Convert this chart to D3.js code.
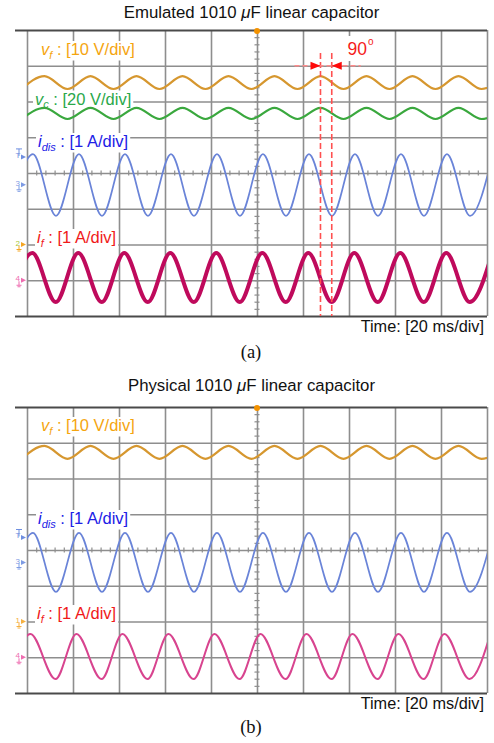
<!DOCTYPE html>
<html lang="en">
<head>
<meta charset="UTF-8">
<title>Emulated vs physical 1010 uF capacitor</title>
<style>
  body { margin: 0; background: #fff; }
  svg { display: block; font-family: "Liberation Sans", Arial, sans-serif; }
</style>
</head>
<body>
<div id="chart"></div>
<script src="https://cdn.jsdelivr.net/npm/d3@7/dist/d3.min.js"></script>
<script>
// scope grid: 20 ms/div, trigger at t = 0, 8 vertical divisions
const timeTicks = [-100, -80, -60, -40, -20, 0, 20, 40, 60, 80, 100];
const divTicks = [-4, -3, -2, -1, 0, 1, 2, 3, 4];

// extrema of each trace (time in ms, level in divisions)
const vfPeakMs   = [-92.4, -72.4, -52.4, -32.4, -12.4, 7.6, 27.6, 47.6, 67.6, 87.6, 107.6];
const vfTroughMs = [-102.4, -82.4, -62.4, -42.4, -22.4, -2.4, 17.6, 37.6, 57.6, 77.6, 97.6];
const idisPeakMs   = [-97.4, -77.4, -57.4, -37.4, -17.4, 2.6, 22.6, 42.6, 62.6, 82.6, 102.6];
const idisTroughMs = [-107.4, -87.4, -67.4, -47.4, -27.4, -7.4, 12.6, 32.6, 52.6, 72.6, 92.6];
const ifPeakMsA   = [-97.7, -77.7, -57.7, -37.7, -17.7, 2.3, 22.3, 42.3, 62.3, 82.3, 102.3];
const ifTroughMsA = [-107.5, -87.5, -67.5, -47.5, -27.5, -7.5, 12.5, 32.5, 52.5, 72.5, 92.5];
const ifPeakMsB   = [-98.5, -78.5, -58.5, -38.5, -18.5, 1.5, 21.5, 41.5, 61.5, 81.5, 101.5];
const ifTroughMsB = [-107.6, -87.6, -67.6, -47.6, -27.6, -7.6, 12.4, 32.4, 52.4, 72.4, 92.4];

// [trough, peak] levels in divisions
const vfLevelA = [2.35, 2.71];
const vcLevelA = [1.51, 1.82];
const idisLevelA = [-1.20, 0.53];
const ifLevelA = [-3.61, -2.24];
const vfLevelB = [2.55, 2.91];
const idisLevelB = [-1.17, 0.48];
const ifLevelB = [-3.61, -2.35];

// 90 degree marker: v_f peak vs i_dis trough
const phaseMarkMs = [27.6, 32.5];

const W = 494, H = 743;
const left = 27, right = 487;

const svg = d3.select("#chart").append("svg")
    .attr("width", W)
    .attr("height", H);

const x = d3.scaleLinear().domain([-100, 100]).range([left, right]);

function extrema(peaks, troughs, level) {
    const pts = peaks.map(t => ({ t: t, v: level[1] }))
        .concat(troughs.map(t => ({ t: t, v: level[0] })));
    return pts.sort((a, b) => a.t - b.t);
}

function drawPanel(opt) {
    const top = opt.top, bottom = opt.bottom;
    const y = d3.scaleLinear().domain([-4, 4]).range([bottom, top]);
    const g = svg.append("g");

    // title
    const title = g.append("text")
        .attr("x", 251.5)
        .attr("y", opt.titleY)
        .attr("text-anchor", "middle")
        .attr("font-size", 16.8)
        .attr("fill", "#111");
    title.append("tspan").text(opt.title[0] + " ");
    title.append("tspan").attr("font-style", "italic").text("\u03bc");
    title.append("tspan").text(opt.title[1]);

    // grid from axes
    const gx = g.append("g")
        .attr("transform", `translate(0,${bottom})`)
        .call(d3.axisBottom(x).tickValues(timeTicks).tickSize(-(bottom - top)).tickFormat(""));
    gx.select(".domain").remove();
    gx.selectAll(".tick line").attr("stroke", "#8e8e8e").attr("stroke-width", 1.6);

    const gy = g.append("g")
        .attr("transform", `translate(${left},0)`)
        .call(d3.axisLeft(y).tickValues(divTicks).tickSize(-(right - left)).tickFormat(""));
    gy.select(".domain").remove();
    gy.selectAll(".tick line").attr("stroke", "#8e8e8e").attr("stroke-width", 1.6);
    gy.selectAll(".tick line").filter(d => Math.abs(d) === 4)
        .attr("x1", -12)
        .attr("stroke", "#4a4a4a")
        .attr("stroke-width", 1.8);

    // minor ticks on centre lines
    const cx = g.append("g")
        .attr("transform", `translate(0,${y(0) - 2.5})`)
        .call(d3.axisBottom(x).tickValues(d3.range(-96, 100, 4)).tickSize(5).tickFormat(""));
    cx.select(".domain").remove();
    cx.selectAll(".tick line").attr("stroke", "#8e8e8e").attr("stroke-width", 1.2);
    const cy = g.append("g")
        .attr("transform", `translate(${x(0) - 2.5},0)`)
        .call(d3.axisRight(y).tickValues(d3.range(-3.8, 4, 0.2)).tickSize(5).tickFormat(""));
    cy.select(".domain").remove();
    cy.selectAll(".tick line").attr("stroke", "#8e8e8e").attr("stroke-width", 1.2);

    // trigger marker
    g.append("circle").attr("cx", x(0)).attr("cy", top + 1).attr("r", 3).attr("fill", "#f39200");

    // labels with white boxes, under the traces
    opt.labels.forEach(l => {
        const lg = g.append("g");
        const t = lg.append("text")
            .attr("x", l.x).attr("y", l.y)
            .attr("font-size", 16.5)
            .attr("fill", l.color);
        t.append("tspan").attr("font-style", "italic").text(l.sym);
        t.append("tspan").attr("font-style", "italic").attr("font-size", 11).attr("dy", 3.5).text(l.sub);
        t.append("tspan").attr("dy", -3.5).text(" : " + l.scale);
        const bb = t.node().getBBox();
        lg.insert("rect", "text")
            .attr("x", bb.x - 2).attr("y", bb.y + 1)
            .attr("width", bb.width + 4).attr("height", bb.height - 1)
            .attr("fill", "#fff");
    });

    // traces
    const clipId = "clip" + opt.id;
    svg.append("clipPath").attr("id", clipId)
        .append("rect")
        .attr("x", left).attr("y", top)
        .attr("width", right - left).attr("height", bottom - top);

    const line = d3.line()
        .x(d => x(d.t))
        .y(d => y(d.v))
        .curve(d3.curveMonotoneX);

    const traces = g.append("g").attr("clip-path", `url(#${clipId})`);
    opt.traces.forEach(tr => {
        traces.append("path")
            .datum(extrema(tr.peaks, tr.troughs, tr.level))
            .attr("fill", "none")
            .attr("stroke", tr.color)
            .attr("stroke-width", tr.width)
            .attr("stroke-linejoin", "round")
            .attr("d", line);
    });

    // channel markers on the left edge
    opt.markers.forEach(m => {
        const my = y(m.level);
        g.append("text")
            .attr("x", 15.5).attr("y", my + 1)
            .attr("font-size", 8)
            .attr("fill", m.color)
            .text(m.label);
        g.append("path")
            .attr("d", `M21,${my - 2.5}L26,${my}L21,${my + 2.5}Z`)
            .attr("fill", m.arrow || m.color);
        if (m.label !== "T") {
            g.append("path")
                .attr("d", `M19,${my + 1}V${my + 5}M16.5,${my + 5}H21.5M17.5,${my + 6.5}H20.5`)
                .attr("stroke", m.arrow || m.color)
                .attr("stroke-width", 1)
                .attr("fill", "none");
        } else {
            g.append("path")
                .attr("d", `M16,${my - 8}H22M19,${my - 8}V${my - 1}`)
                .attr("stroke", m.color)
                .attr("stroke-width", 1)
                .attr("fill", "none");
        }
    });

    // time/div
    g.append("text")
        .attr("x", 484).attr("y", bottom + 15.5)
        .attr("text-anchor", "end")
        .attr("font-size", 16.3)
        .attr("fill", "#111")
        .text("Time: [20 ms/div]");

    // sub caption
    g.append("text")
        .attr("x", 251).attr("y", opt.capY)
        .attr("text-anchor", "middle")
        .attr("font-family", "'Liberation Serif', 'Times New Roman', serif")
        .attr("font-size", 18.5)
        .attr("fill", "#111")
        .text(opt.caption);

    return { g: g, y: y };
}

const A = drawPanel({
    id: "a", top: 30, bottom: 316, titleY: 18, capY: 358,
    title: ["Emulated 1010", "F linear capacitor"],
    caption: "(a)",
    traces: [
        { peaks: vfPeakMs, troughs: vfTroughMs, level: vfLevelA, color: "#d6972f", width: 2.2 },
        { peaks: vfPeakMs, troughs: vfTroughMs, level: vcLevelA, color: "#3aa83e", width: 2.2 },
        { peaks: idisPeakMs, troughs: idisTroughMs, level: idisLevelA, color: "#6a84d8", width: 1.7 },
        { peaks: ifPeakMsA, troughs: ifTroughMsA, level: ifLevelA, color: "#bf0a5c", width: 4 }
    ],
    markers: [
        { label: "T", level: 0.45, color: "#6f8fe0" },
        { label: "3", level: -0.33, color: "#7d9be4" },
        { label: "2", level: -2.0, color: "#a8c83a", arrow: "#f5a623" },
        { label: "4", level: -3.0, color: "#ee6db0" }
    ],
    labels: [
        { x: 41, y: 55, sym: "v", sub: "f", scale: "[10 V/div]", color: "#f5a50f" },
        { x: 35, y: 104.5, sym: "v", sub: "c", scale: "[20 V/div]", color: "#2aa84a" },
        { x: 38, y: 147, sym: "i", sub: "dis", scale: "[1 A/div]", color: "#2020e6" },
        { x: 37, y: 243, sym: "i", sub: "f", scale: "[1 A/div]", color: "#f01a1a" }
    ]
});

drawPanel({
    id: "b", top: 407, bottom: 693, titleY: 391, capY: 733,
    title: ["Physical 1010", "F linear capacitor"],
    caption: "(b)",
    traces: [
        { peaks: vfPeakMs, troughs: vfTroughMs, level: vfLevelB, color: "#d6972f", width: 2.2 },
        { peaks: idisPeakMs, troughs: idisTroughMs, level: idisLevelB, color: "#6a84d8", width: 1.7 },
        { peaks: ifPeakMsB, troughs: ifTroughMsB, level: ifLevelB, color: "#d8448f", width: 2 }
    ],
    markers: [
        { label: "T", level: 0.35, color: "#6f8fe0" },
        { label: "3", level: -0.35, color: "#7d9be4" },
        { label: "1", level: -2.0, color: "#f5b040" },
        { label: "4", level: -3.0, color: "#ee6db0" }
    ],
    labels: [
        { x: 41, y: 431, sym: "v", sub: "f", scale: "[10 V/div]", color: "#f5a50f" },
        { x: 38, y: 524, sym: "i", sub: "dis", scale: "[1 A/div]", color: "#2020e6" },
        { x: 37, y: 619, sym: "i", sub: "f", scale: "[1 A/div]", color: "#f01a1a" }
    ]
});

// 90 degree annotation in panel (a)
const ann = A.g.append("g");
const yArrow = A.y(3);
const xa = x(phaseMarkMs[0]), xb = x(phaseMarkMs[1]);
phaseMarkMs.forEach(t => {
    ann.append("line")
        .attr("x1", x(t)).attr("x2", x(t))
        .attr("y1", 53).attr("y2", A.y(-4))
        .attr("stroke", "#ff5050")
        .attr("stroke-width", 1.6)
        .attr("stroke-dasharray", "6,3");
});
ann.append("line")
    .attr("x1", xa - 26).attr("x2", xb + 29)
    .attr("y1", yArrow).attr("y2", yArrow)
    .attr("stroke", "#ff8c8c")
    .attr("stroke-width", 1.4)
    .attr("stroke-dasharray", "5,3");
ann.append("path")
    .attr("d", `M${xa},${yArrow}L${xa - 10},${yArrow - 4}L${xa - 10},${yArrow + 4}Z`)
    .attr("fill", "#ff0a0a");
ann.append("path")
    .attr("d", `M${xb},${yArrow}L${xb + 10},${yArrow - 4}L${xb + 10},${yArrow + 4}Z`)
    .attr("fill", "#ff0a0a");
const deg = ann.append("g");
const degText = deg.append("text")
    .attr("x", 347.5).attr("y", 55)
    .attr("font-size", 17.5)
    .attr("fill", "#f51a1a");
degText.append("tspan").text("90");
degText.append("tspan").attr("font-size", 10).attr("dx", 1).attr("dy", -10).text("o");
const dbb = degText.node().getBBox();
deg.insert("rect", "text")
    .attr("x", dbb.x - 2).attr("y", dbb.y)
    .attr("width", dbb.width + 4).attr("height", dbb.height + 2)
    .attr("fill", "#fff");
</script>
</body>
</html>
